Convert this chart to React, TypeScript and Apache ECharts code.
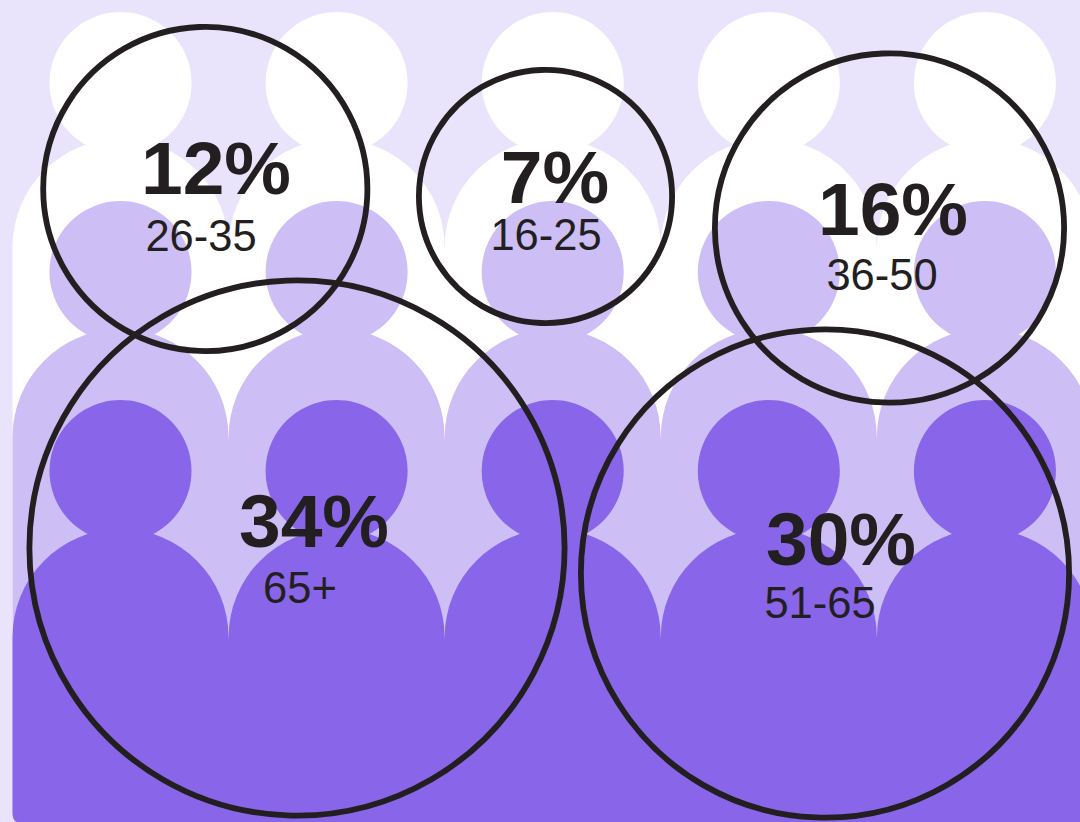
import React, { useEffect, useRef } from "react";
import * as echarts from "echarts";

const ageGroups = ["26-35", "16-25", "36-50", "65+", "51-65"];
const shares = [12, 7, 16, 34, 30];
const circleX = [205.3, 545.5, 889.5, 297, 825];
const circleY = [189, 196.5, 228, 548, 573.5];
const circleOuterRadius = [165, 129.5, 177.5, 270.5, 247];
const shareLabelX = [216, 555, 893, 314, 841];
const shareLabelY = [168, 177, 209, 521, 539];
const groupLabelX = [201, 546, 882, 300, 820];
const groupLabelY = [236, 235, 275, 588, 603];

const columns = [0, 1, 2, 3, 4];
const rowHeadY = [83, 272, 471];
const rowShoulderY = [247, 437, 637];
const rowColors = ["#FFFFFF", "#CDBFF5", "#8965E9"];

const firstX = 120.5;
const stepX = 216.1;
const headR = 71;
const bodyR = 108;
const INK = "#231F20";
const RING = 5.8;
const BOTTOM = 822;

export default function App() {
  const ref = useRef<HTMLDivElement>(null);
  useEffect(() => {
    document.body.style.margin = "0";
    const chart = echarts.init(ref.current!, null, { renderer: "svg" });
    const people: number[][] = [];
    rowColors.forEach((_, r) => columns.forEach((c) => people.push([c, r])));
    const renderPerson = (_p: any, api: any) => {
      const col = api.value(0);
      const row = api.value(1);
      const [cx, headY] = api.coord([firstX + col * stepX, rowHeadY[row]]);
      const [, shoulderY] = api.coord([0, rowShoulderY[row]]);
      const [, bottomY] = api.coord([0, BOTTOM]);
      const [left] = api.coord([firstX + col * stepX - bodyR, 0]);
      const [right] = api.coord([firstX + col * stepX + bodyR, 0]);
      const corner = col === 0 ? 9 : 0;
      // the lower right edge overlaps the next body a little, so no seam shows between them
      const d =
        `M${left} ${bottomY - corner} L${left} ${shoulderY} ` +
        `A${bodyR} ${bodyR} 0 0 1 ${right} ${shoulderY} ` +
        `L${right + 0.6} ${shoulderY + 3} L${right + 0.6} ${bottomY + 1} ` +
        `L${left + corner} ${bottomY + 1} ` +
        (corner ? `Q${left} ${bottomY + 1} ${left} ${bottomY - corner} Z` : "Z");
      const fill = rowColors[row];
      return {
        type: "group",
        children: [
          { type: "path", shape: { pathData: d }, style: { fill } },
          { type: "circle", shape: { cx, cy: headY, r: headR }, style: { fill } },
        ],
      };
    };
    const labelSeries = (
      xs: number[],
      ys: number[],
      texts: string[],
      fontSize: number,
      fontWeight: number,
      lineHeight: number
    ) => ({
      type: "scatter",
      silent: true,
      symbolSize: 0,
      z: 5,
      itemStyle: { opacity: 1 },
      data: texts.map((t, i) => ({ value: [xs[i], ys[i]], name: t })),
      label: {
        show: true,
        position: "inside",
        formatter: (p: any) => p.name,
        fontFamily: "'Liberation Sans', Arial, sans-serif",
        fontSize,
        fontWeight,
        lineHeight,
        color: INK,
        opacity: 1,
      },
    });
    chart.setOption({
      animation: false,
      backgroundColor: "#E9E4FB",
      grid: { left: 0, right: 0, top: 0, bottom: 0 },
      xAxis: { type: "value", min: 0, max: 1080, show: false },
      yAxis: { type: "value", min: 0, max: 822, inverse: true, show: false },
      series: [
        {
          type: "custom",
          silent: true,
          clip: true,
          z: 1,
          renderItem: renderPerson,
          data: people,
        },
        {
          type: "scatter",
          silent: true,
          z: 3,
          symbol: "circle",
          data: shares.map((_, i) => ({
            value: [circleX[i], circleY[i]],
            symbolSize: 2 * (circleOuterRadius[i] - RING / 2),
          })),
          itemStyle: {
            color: "rgba(0,0,0,0)",
            borderColor: INK,
            borderWidth: RING,
            opacity: 1,
          },
        },
        labelSeries(shareLabelX, shareLabelY, shares.map((s) => `${s}%`), 75, 700, 58),
        labelSeries(groupLabelX, groupLabelY, ageGroups, 43.5, 400, 34),
      ],
    });
    return () => chart.dispose();
  }, []);
  return <div ref={ref} style={{ width: 1080, height: 822 }} />;
}
